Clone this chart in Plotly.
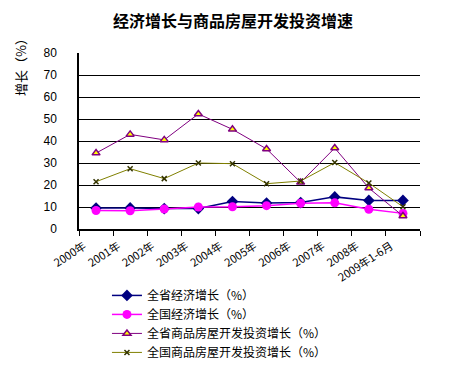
import plotly.graph_objects as go

categories = ["2000年", "2001年", "2002年", "2003年", "2004年", "2005年",
              "2006年", "2007年", "2008年", "2009年1-6月"]
prov_gdp = [9.5, 9.6, 9.3, 9.3, 12.5, 11.8, 12.0, 14.6, 13.0, 13.0]
nat_gdp = [8.4, 8.3, 9.1, 10.0, 10.1, 10.6, 11.7, 11.9, 9.0, 7.1]
prov_house = [34.5, 43.0, 40.5, 52.3, 45.3, 36.4, 21.2, 36.8, 18.6, 5.9]
nat_house = [21.5, 27.4, 22.9, 30.0, 29.7, 20.6, 21.8, 30.2, 20.9, 10.1]
y_ticks = [0, 10, 20, 30, 40, 50, 60, 70, 80]

FONT = "Liberation Sans, Noto Sans CJK SC, sans-serif"
CJK = "Noto Sans CJK SC, sans-serif"

fig = go.Figure()
fig.add_trace(go.Scatter(x=categories, y=prov_gdp, name="全省经济增长（%）",
                         mode="lines+markers",
                         line=dict(color="#000080", width=1.5),
                         marker=dict(symbol="diamond", size=9, color="#000080")))
fig.add_trace(go.Scatter(x=categories, y=nat_gdp, name="全国经济增长（%）",
                         mode="lines+markers",
                         line=dict(color="#FF00FF", width=1.5),
                         marker=dict(symbol="circle", size=9, color="#FF00FF")))
fig.add_trace(go.Scatter(x=categories, y=prov_house, name="全省商品房屋开发投资增长（%）",
                         mode="lines+markers",
                         line=dict(color="#800080", width=1),
                         marker=dict(symbol="triangle-up", size=7, color="#FFFF00",
                                     line=dict(color="#800080", width=1.5))))
fig.add_trace(go.Scatter(x=categories, y=nat_house, name="全国商品房屋开发投资增长（%）",
                         mode="lines+markers",
                         line=dict(color="#808000", width=1),
                         marker=dict(symbol="x-thin", size=5,
                                     line=dict(color="#333300", width=1.5))))

fig.update_layout(
    width=459, height=365,
    margin=dict(l=71, r=47, t=45, b=144, autoexpand=False),
    paper_bgcolor="white", plot_bgcolor="white",
    font=dict(family=FONT, size=12, color="black"),
    title=dict(text="经济增长与商品房屋开发投资增速",
               font=dict(family=CJK, size=16, color="black", weight="bold"),
               x=0.49, xanchor="center", xref="container",
               yref="container", y=0.962, yanchor="middle", automargin=False),
    showlegend=True,
    legend=dict(x=0.082, xanchor="left", y=-0.295, yanchor="top",
                font=dict(family=CJK, size=12, color="black"),
                bgcolor="rgba(0,0,0,0)", tracegroupgap=0, itemwidth=30),
    annotations=[dict(text="增长（%）", textangle=-90, showarrow=False,
                      xref="paper", yref="paper",
                      x=(12 - 71) / 341, y=(221 - 56) / 176,
                      xanchor="center", yanchor="middle",
                      font=dict(family=CJK, size=13, color="black"))],
)
fig.update_xaxes(
    type="category", tickson="boundaries", ticks="outside", ticklen=5,
    tickcolor="black", tickwidth=1, showline=True, linecolor="black", linewidth=1.5,
    showgrid=False, tickangle=-33, tickfont=dict(family=CJK, size=11),
    ticklabelshift=-12, ticklabelstandoff=5,
    range=[-0.5, 9.5], automargin=False,
)
fig.update_yaxes(
    range=[0, 80], tickvals=y_ticks, showgrid=True, gridcolor="black", gridwidth=1.2,
    showline=True, linecolor="black", linewidth=1.5, zeroline=False,
    tickfont=dict(family=FONT, size=12), ticks="outside", ticklen=18,
    tickcolor="rgba(0,0,0,0)", automargin=False,
)
fig.write_html("out.html")
